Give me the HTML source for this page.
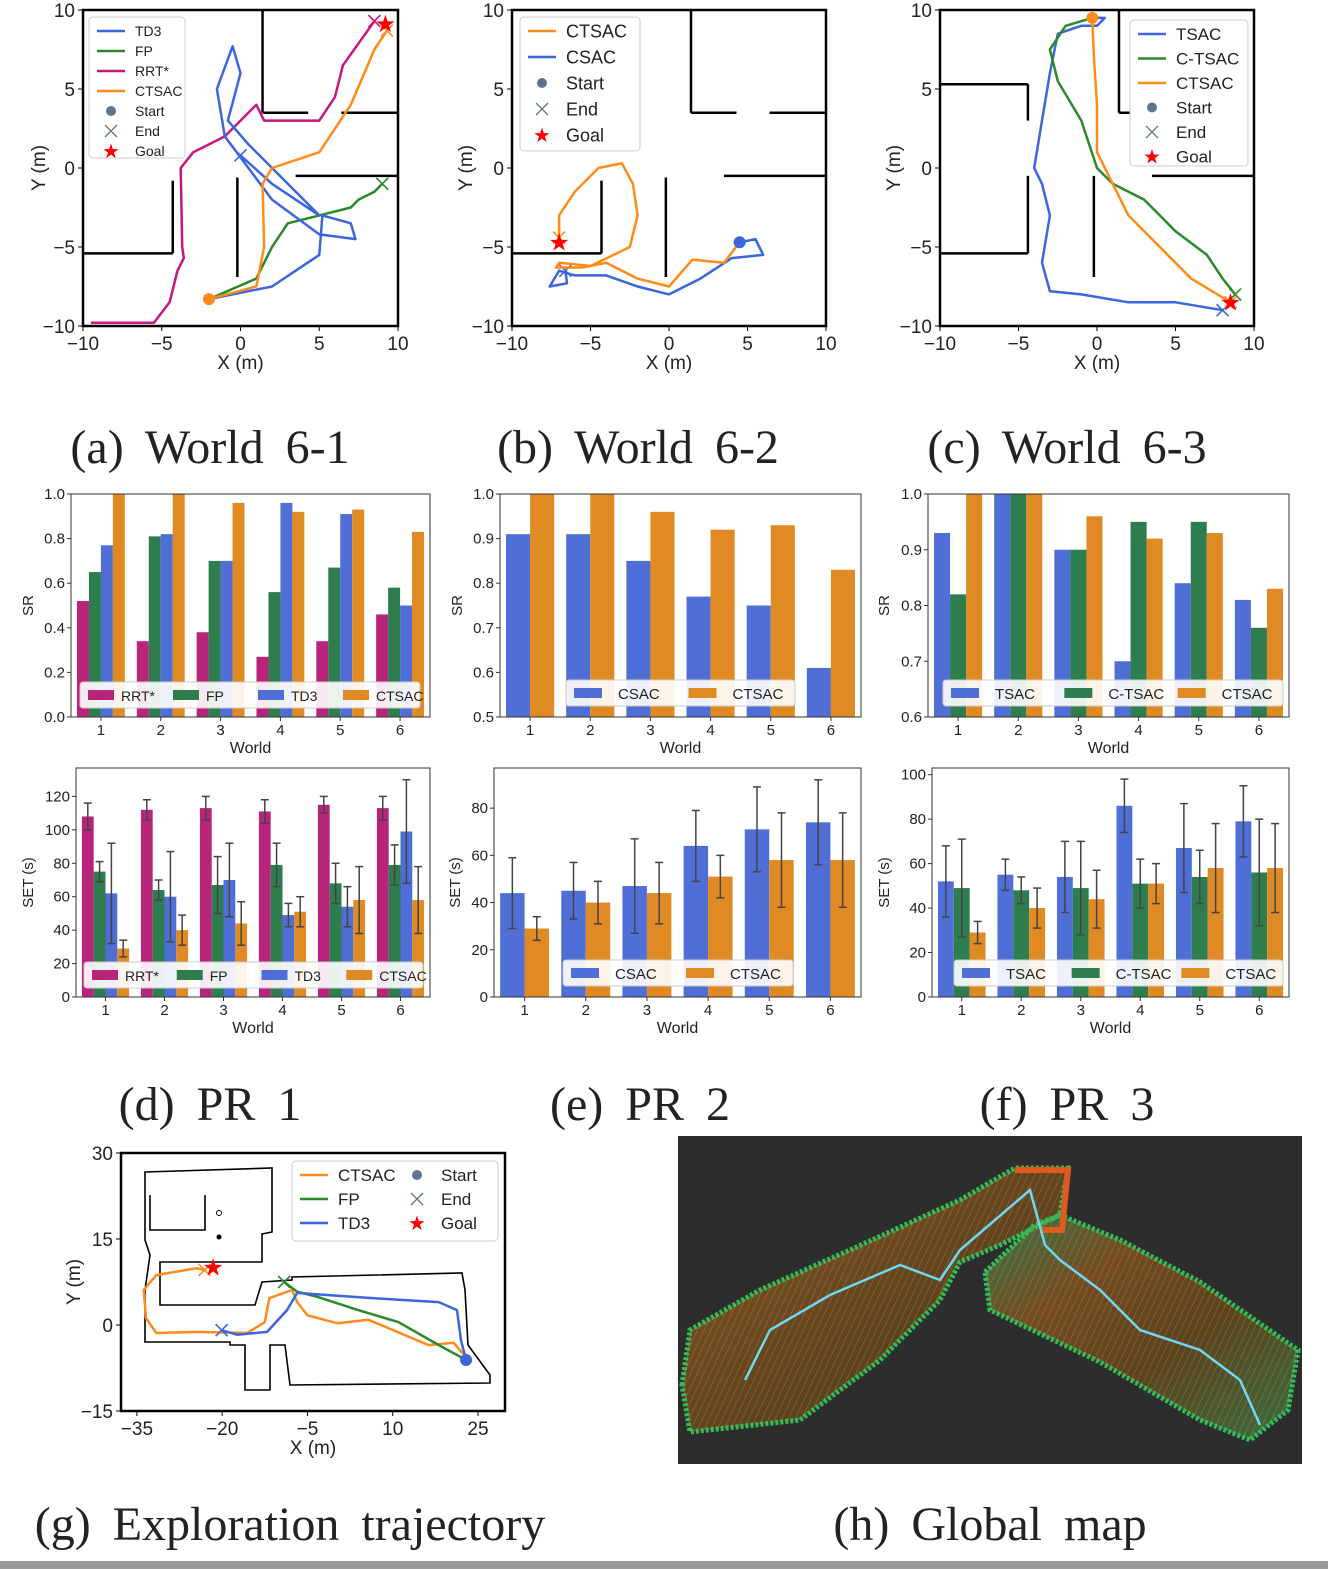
<!DOCTYPE html>
<html><head><meta charset="utf-8">
<style>
html,body{margin:0;padding:0;background:#fff;}
svg{display:block;font-family:"Liberation Sans",sans-serif;}
.cap{font-family:"Liberation Serif",serif;font-size:48px;word-spacing:10px;fill:#222;}
</style></head>
<body>
<svg id="fig" width="1328" height="1569" viewBox="0 0 1328 1569" xmlns="http://www.w3.org/2000/svg">
<rect x="0" y="0" width="1328" height="1569" fill="#fff"/>
<g><text class="cap" x="210" y="463" text-anchor="middle">(a) World 6-1</text></g>
<g><text class="cap" x="638" y="463" text-anchor="middle">(b) World 6-2</text></g>
<g><text class="cap" x="1067" y="463" text-anchor="middle">(c) World 6-3</text></g>
<g><text class="cap" x="210" y="1120" text-anchor="middle">(d) PR 1</text></g>
<g><text class="cap" x="640" y="1120" text-anchor="middle">(e) PR 2</text></g>
<g><text class="cap" x="1067" y="1120" text-anchor="middle">(f) PR 3</text></g>
<g><text class="cap" x="290" y="1540" text-anchor="middle">(g) Exploration trajectory</text></g>
<g><text class="cap" x="990" y="1540" text-anchor="middle">(h) Global map</text></g>
<rect x="0" y="1561" width="1328" height="8" fill="#9a9a9a"/>
<g id="root"></g>
</svg>
<script>
// ---------- data ----------
const worlds = ["1","2","3","4","5","6"];
const srRRT = [0.52,0.34,0.38,0.27,0.34,0.46];
const srFP = [0.65,0.81,0.70,0.56,0.67,0.58];
const srTD3 = [0.77,0.82,0.70,0.96,0.91,0.50];
const srCTSAC = [1.0,1.0,0.96,0.92,0.93,0.83];
const srCSAC = [0.91,0.91,0.85,0.77,0.75,0.61];
const srTSAC = [0.93,1.0,0.90,0.70,0.84,0.81];
const srCTSAC2 = [0.82,1.0,0.90,0.95,0.95,0.76];
const setRRT = [108,112,113,111,115,113];
const setRRTErr = [8,6,7,7,5,7];
const setFP = [75,64,67,79,68,79];
const setFPErr = [6,6,17,13,12,12];
const setTD3 = [62,60,70,49,54,99];
const setTD3Err = [30,27,22,7,12,31];
const setCTSAC = [29,40,44,51,58,58];
const setCTSACErr = [5,9,13,9,20,20];
const setCSAC = [44,45,47,64,71,74];
const setCSACErr = [15,12,20,15,18,18];
const setTSAC = [52,55,54,86,67,79];
const setTSACErr = [16,7,16,12,20,16];
const setCT = [49,48,49,51,54,56];
const setCTErr = [22,6,21,11,12,24];
const srTicksD = [0,0.2,0.4,0.6,0.8,1.0];
const srTicksE = [0.5,0.6,0.7,0.8,0.9,1.0];
const srTicksF = [0.6,0.7,0.8,0.9,1.0];
const setTicksD = [0,20,40,60,80,100,120];
const setTicksE = [0,20,40,60,80];
const setTicksF = [0,20,40,60,80,100];
const trajTicks = [-10,-5,0,5,10];
const aCTSAC = [[-2,-8.3],[1,-7.5],[1.5,-5],[1.4,-1],[2,0],[5,1],[7,4],[8.5,7.5],[9.3,8.7]];
const aTD3 = [[-2,-8.3],[2,-7.5],[5,-5.5],[5.2,-3],[7,-3.5],[7.3,-4.5],[5,-4.2],[2,-2],[0.5,0],[-1,2],[-1.5,5],[-0.5,7.7],[0,6],[-0.8,3],[0.5,1.5],[3,-1],[5,-3],[2,-1],[0,0.8]];
const aFP = [[-2,-8.3],[1,-7],[2,-5],[3,-3.5],[5,-3],[7,-2.5],[7.5,-2],[8.5,-1.5],[9,-1]];
const aRRT = [[-9.5,-9.8],[-5.5,-9.8],[-4.5,-8.5],[-4,-6.5],[-3.6,-5.7],[-3.7,-5],[-3.8,0],[-3,1],[-1,2],[0,3],[1,4],[1.5,3],[3,3],[5,3],[6,4.5],[6.5,6.5],[8.5,9.3]];
const bCSAC = [[4.5,-4.7],[5.5,-4.5],[6,-5.5],[4,-5.7],[2,-7],[0,-8],[-2,-7.5],[-4,-6.8],[-6,-6.8],[-7,-6.5],[-7.6,-7.5],[-6.5,-7.3],[-6.6,-6.5]];
const bCTSAC = [[4.5,-4.7],[3.5,-6],[1.5,-5.8],[0,-7.5],[-2,-7],[-4,-6],[-5.5,-6.3],[-7.2,-6.3],[-7,-6],[-5,-6.2],[-2.5,-5],[-2,-3],[-2.3,-1],[-3,0.3],[-4.5,0],[-6,-1.5],[-7,-3],[-7,-4.4]];
const cTSAC = [[-0.3,9.5],[0.5,9.5],[0,9],[-1,9],[-2.5,8.5],[-3,6],[-3.5,3],[-4,0],[-3.5,-1],[-3,-3],[-3.5,-6],[-3,-7.8],[-1,-8],[2,-8.5],[5,-8.5],[8,-9]];
const cCT = [[-0.3,9.5],[-2,9],[-3,7.5],[-2.5,5.5],[-1,3],[0,0],[1,-1],[3,-2],[4,-3],[5,-4],[7,-5.5],[8,-7],[8.8,-8]];
const cCTSAC = [[-0.3,9.5],[-0.2,7],[0,4],[0,1],[1,-1],[2,-3],[4,-5],[6,-7],[8.5,-8.5]];
const gCTSAC = [[22.9,-5.6],[20.7,-3.1],[16.3,-3.5],[10.1,-0.9],[5.7,0.9],[0.3,0.3],[-5,1.7],[-6.8,4],[-7.7,6.1],[-11.7,4.7],[-12.5,0.5],[-15.6,-1.4],[-24.5,-1.2],[-31.6,-1.4],[-33.4,1.2],[-33.8,6.1],[-31.6,8.7],[-24.5,9.9],[-23.1,9.6]];
const gTD3 = [[22.9,-6.1],[22,-2.6],[21.3,2.6],[18.1,4],[11,4.4],[0.3,5.1],[-6.8,5.6],[-8.6,2.6],[-12.1,-1.2],[-17.4,-1.7],[-20.1,-0.9]];
const gFP = [[22.9,-6.1],[18.1,-3.5],[11,0.5],[3.9,2.6],[-3.2,4.9],[-6.8,5.8],[-9.1,7.5]];
const gXTicks = [-35,-20,-5,10,25];
const gYTicks = [30,15,0,-15];

const C = {rrt:"#b8247a", fp:"#2e7d4e", td3:"#4f6fd6", ct:"#e08a24", tblue:"#3b66dd", tgreen:"#2a8a2a", torange:"#ff8c1a", tmag:"#c8177f"};
const NS = "http://www.w3.org/2000/svg";
const root = document.getElementById('root');
function add(parent, tag, attrs, name, txt){
  const el = document.createElementNS(NS, tag);
  for (const k in attrs) el.setAttribute(k, attrs[k]);
  
  
  if (txt !== undefined) el.textContent = txt;
  parent.appendChild(el);
  return el;
}
function fmtNeg(v){ return v < 0 ? "\u2212" + Math.abs(v) : String(v); }

function barChart(o){
  const g = add(root, 'g', {}, o.name);
  const ys = v => o.y1 - (v - o.ymin) / (o.ymax - o.ymin) * (o.y1 - o.y0);
  const step = (o.x1 - o.x0) / worlds.length;
  const xc = i => o.x0 + step * (i + 0.5);
  const bw = step * 0.8 / o.series.length;
  o.series.forEach((s, si) => {
    s.vals.forEach((v, i) => {
      const x = xc(i) - step * 0.4 + si * bw;
      const top = ys(v);
      add(g, 'rect', {x:x, y:top, width:bw, height:o.y1 - top, fill:s.color}, 'bar-' + s.key + '-' + worlds[i]);
      if (s.errs) {
        const e = s.errs[i], cx = x + bw / 2;
        add(g, 'line', {x1:cx, x2:cx, y1:ys(v + e), y2:ys(Math.max(o.ymin, v - e)), stroke:'#444', 'stroke-width':1.5}, 'error-bar');
        add(g, 'line', {x1:cx-4, x2:cx+4, y1:ys(v + e), y2:ys(v + e), stroke:'#444', 'stroke-width':1.5}, 'error-cap');
        add(g, 'line', {x1:cx-4, x2:cx+4, y1:ys(v - e), y2:ys(v - e), stroke:'#444', 'stroke-width':1.5}, 'error-cap');
      }
    });
  });
  add(g, 'rect', {x:o.x0, y:o.y0, width:o.x1 - o.x0, height:o.y1 - o.y0, fill:'none', stroke:'#333', 'stroke-width':1}, 'plot-frame');
  o.ticks.forEach(t => {
    const y = ys(t);
    add(g, 'line', {x1:o.x0 - 4, x2:o.x0, y1:y, y2:y, stroke:'#333'}, 'y-tick');
    add(g, 'text', {x:o.x0 - 6, y:y + 5, 'text-anchor':'end', 'font-size':15, fill:'#222'}, 'y-tick-label', o.fmt ? t.toFixed(1) : String(t));
  });
  worlds.forEach((w, i) => {
    add(g, 'line', {x1:xc(i), x2:xc(i), y1:o.y1, y2:o.y1 + 4, stroke:'#333'}, 'x-tick');
    add(g, 'text', {x:xc(i), y:o.y1 + 18, 'text-anchor':'middle', 'font-size':15, fill:'#222'}, 'x-tick-label', w);
  });
  add(g, 'text', {x:(o.x0 + o.x1) / 2, y:o.y1 + 36, 'text-anchor':'middle', 'font-size':16, fill:'#222'}, 'x-axis-title', 'World');
  const ly = (o.y0 + o.y1) / 2;
  add(g, 'text', {x:o.ylx, y:ly, 'text-anchor':'middle', 'font-size':15, fill:'#222', transform:'rotate(-90 ' + o.ylx + ' ' + ly + ')'}, 'y-axis-title', o.ylabel);
  const L = o.legend;
  add(g, 'rect', {x:L.x, y:L.y, width:L.w, height:26, rx:3, fill:'#fff', 'fill-opacity':0.9, stroke:'#ccc'}, 'legend-box');
  const ew = L.w / o.series.length;
  const four = o.series.length > 3;
  o.series.forEach((s, si) => {
    const ex = L.x + 8 + si * ew;
    add(g, 'rect', {x:ex, y:L.y + 8, width:four ? 26 : 28, height:10, fill:s.color}, 'legend-swatch');
    add(g, 'text', {x:ex + (four ? 33 : 44), y:L.y + 19, 'font-size':four ? 14 : 15, fill:'#222'}, 'legend-entry', s.label);
  });
}
const S4 = (a,b,c,d,ea,eb,ec,ed) => [
  {key:'rrt', label:'RRT*', color:C.rrt, vals:a, errs:ea},
  {key:'fp', label:'FP', color:C.fp, vals:b, errs:eb},
  {key:'td3', label:'TD3', color:C.td3, vals:c, errs:ec},
  {key:'ctsac', label:'CTSAC', color:C.ct, vals:d, errs:ed}];
barChart({name:'sr-chart-pr1', x0:71, x1:430, y0:494, y1:717, ymin:0, ymax:1.0, ticks:srTicksD, fmt:true, ylabel:'SR', ylx:33,
  series:S4(srRRT, srFP, srTD3, srCTSAC), legend:{x:80, y:682, w:340}});
barChart({name:'sr-chart-pr2', x0:500, x1:861, y0:494, y1:717, ymin:0.5, ymax:1.0, ticks:srTicksE, fmt:true, ylabel:'SR', ylx:462,
  series:[{key:'csac', label:'CSAC', color:C.td3, vals:srCSAC},{key:'ctsac', label:'CTSAC', color:C.ct, vals:srCTSAC}], legend:{x:566, y:680, w:229}});
barChart({name:'sr-chart-pr3', x0:928, x1:1289, y0:494, y1:717, ymin:0.6, ymax:1.0, ticks:srTicksF, fmt:true, ylabel:'SR', ylx:889,
  series:[{key:'tsac', label:'TSAC', color:C.td3, vals:srTSAC},{key:'c-tsac', label:'C-TSAC', color:C.fp, vals:srCTSAC2},{key:'ctsac', label:'CTSAC', color:C.ct, vals:srCTSAC}], legend:{x:943, y:680, w:340}});
barChart({name:'set-chart-pr1', x0:76, x1:430, y0:768, y1:997, ymin:0, ymax:137, ticks:setTicksD, fmt:false, ylabel:'SET (s)', ylx:33,
  series:S4(setRRT, setFP, setTD3, setCTSAC, setRRTErr, setFPErr, setTD3Err, setCTSACErr), legend:{x:84, y:962, w:339}});
barChart({name:'set-chart-pr2', x0:494, x1:861, y0:768, y1:997, ymin:0, ymax:97, ticks:setTicksE, fmt:false, ylabel:'SET (s)', ylx:460,
  series:[{key:'csac', label:'CSAC', color:C.td3, vals:setCSAC, errs:setCSACErr},{key:'ctsac', label:'CTSAC', color:C.ct, vals:setCTSAC, errs:setCTSACErr}], legend:{x:563, y:960, w:230}});
barChart({name:'set-chart-pr3', x0:932, x1:1289, y0:768, y1:997, ymin:0, ymax:103, ticks:setTicksF, fmt:false, ylabel:'SET (s)', ylx:889,
  series:[{key:'tsac', label:'TSAC', color:C.td3, vals:setTSAC, errs:setTSACErr},{key:'c-tsac', label:'C-TSAC', color:C.fp, vals:setCT, errs:setCTErr},{key:'ctsac', label:'CTSAC', color:C.ct, vals:setCTSAC, errs:setCTSACErr}], legend:{x:954, y:960, w:329}});

function marker(g, type, x, y, color, name){
  if (type === 'dot') add(g, 'circle', {cx:x, cy:y, r:6, fill:color}, name);
  else if (type === 'x') add(g, 'path', {d:`M${x-6} ${y-6}L${x+6} ${y+6}M${x-6} ${y+6}L${x+6} ${y-6}`, stroke:color, 'stroke-width':1.6, fill:'none'}, name);
  else add(g, 'text', {x:x, y:y + 8, 'text-anchor':'middle', 'font-size':24, fill:'#f00'}, name, '\u2605');
}
function traj(o){
  const g = add(root, 'g', {}, o.name);
  const xs = v => o.x0 + (v - o.xmin) / (o.xmax - o.xmin) * (o.x1 - o.x0);
  const ys = v => o.y1 - (v - o.ymin) / (o.ymax - o.ymin) * (o.y1 - o.y0);
  (o.walls || []).forEach(w => add(g, 'line', {x1:xs(w[0]), y1:ys(w[1]), x2:xs(w[2]), y2:ys(w[3]), stroke:'#000', 'stroke-width':2.5}, 'wall'));
  if (o.extra) o.extra(g);
  o.lines.forEach(l => {
    add(g, 'polyline', {points:l.pts.map(p => xs(p[0]).toFixed(1) + ',' + ys(p[1]).toFixed(1)).join(' '), fill:'none', stroke:l.color, 'stroke-width':2.5, 'stroke-linejoin':'round'}, 'path-' + l.key);
    const e = l.pts[l.pts.length - 1];
    marker(g, 'x', xs(e[0]), ys(e[1]), l.color, 'end-marker-' + l.key);
  });
  marker(g, 'dot', xs(o.start[0]), ys(o.start[1]), o.startColor, 'start-marker');
  marker(g, 'star', xs(o.goal[0]), ys(o.goal[1]), '#f00', 'goal-marker');
  add(g, 'rect', {x:o.x0, y:o.y0, width:o.x1 - o.x0, height:o.y1 - o.y0, fill:'none', stroke:'#000', 'stroke-width':2.5}, 'plot-frame');
  o.xt.forEach(t => {
    add(g, 'line', {x1:xs(t), x2:xs(t), y1:o.y1, y2:o.y1 + 5, stroke:'#000'}, 'x-tick');
    add(g, 'text', {x:xs(t), y:o.y1 + 24, 'text-anchor':'middle', 'font-size':19, fill:'#222'}, 'x-tick-label', fmtNeg(t));
  });
  o.yt.forEach(t => {
    add(g, 'line', {x1:o.x0 - 5, x2:o.x0, y1:ys(t), y2:ys(t), stroke:'#000'}, 'y-tick');
    add(g, 'text', {x:o.x0 - 8, y:ys(t) + 7, 'text-anchor':'end', 'font-size':19, fill:'#222'}, 'y-tick-label', fmtNeg(t));
  });
  add(g, 'text', {x:(o.x0 + o.x1) / 2, y:o.y1 + 43, 'text-anchor':'middle', 'font-size':19, fill:'#222'}, 'x-axis-title', 'X (m)');
  const ly = (o.y0 + o.y1) / 2;
  add(g, 'text', {x:o.ylx, y:ly, 'text-anchor':'middle', 'font-size':19, fill:'#222', transform:'rotate(-90 ' + o.ylx + ' ' + ly + ')'}, 'y-axis-title', 'Y (m)');
  const L = o.legend;
  add(g, 'rect', {x:L.x, y:L.y, width:L.w, height:L.h, rx:4, fill:'#fff', stroke:'#ccc'}, 'legend-box');
  L.items.forEach((it, i) => {
    const cx = L.x + (L.cols && i >= L.cols ? L.w / 2 : 0);
    const ri = L.cols ? i % L.cols : i;
    const y = L.y + 14 + ri * L.dy;
    if (it.t === 'line') add(g, 'line', {x1:cx + 8, x2:cx + 36, y1:y, y2:y, stroke:it.c, 'stroke-width':2.5}, 'legend-line');
    else if (it.t === 'dot') add(g, 'circle', {cx:cx + 22, cy:y, r:5, fill:'#5f7290'}, 'legend-start-icon');
    else if (it.t === 'x') add(g, 'path', {d:`M${cx+16} ${y-6}L${cx+28} ${y+6}M${cx+16} ${y+6}L${cx+28} ${y-6}`, stroke:'#5f7290', 'stroke-width':1.3}, 'legend-end-icon');
    else add(g, 'text', {x:cx + 22, y:y + 7, 'text-anchor':'middle', 'font-size':20, fill:'#f00'}, 'legend-goal-icon', '\u2605');
    add(g, 'text', {x:cx + 46, y:y + L.fs * 0.36, 'font-size':L.fs, fill:'#222'}, 'legend-entry', it.label);
  });
}
const wallsAB = [[-10,-5.4,-4.3,-5.4],[-4.3,-5.4,-4.3,-0.8],[-0.2,-6.9,-0.2,-0.6],[1.4,10,1.4,3.5],[1.4,3.5,4.3,3.5],[6.4,3.5,10,3.5],[3.5,-0.5,10,-0.5]];
const T = {xmin:-10, xmax:10, ymin:-10, ymax:10, y0:10, y1:326, xt:trajTicks, yt:trajTicks};
traj(Object.assign({}, T, {name:'traj-world-6-1', x0:83, x1:398, ylx:45, walls:wallsAB, start:[-2,-8.3], startColor:C.torange, goal:[9.2,9.1],
  lines:[{key:'rrt',color:C.tmag,pts:aRRT},{key:'fp',color:C.tgreen,pts:aFP},{key:'td3',color:C.tblue,pts:aTD3},{key:'ctsac',color:C.torange,pts:aCTSAC}],
  legend:{x:89, y:17, w:96, h:141, dy:20, fs:14, items:[{t:'line',c:C.tblue,label:'TD3'},{t:'line',c:C.tgreen,label:'FP'},{t:'line',c:C.tmag,label:'RRT*'},{t:'line',c:C.torange,label:'CTSAC'},{t:'dot',label:'Start'},{t:'x',label:'End'},{t:'star',label:'Goal'}]}}));
traj(Object.assign({}, T, {name:'traj-world-6-2', x0:512, x1:826, ylx:472, walls:wallsAB, start:[4.5,-4.7], startColor:C.tblue, goal:[-7,-4.7],
  lines:[{key:'csac',color:C.tblue,pts:bCSAC},{key:'ctsac',color:C.torange,pts:bCTSAC}],
  legend:{x:520, y:17, w:120, h:134, dy:26, fs:18, items:[{t:'line',c:C.torange,label:'CTSAC'},{t:'line',c:C.tblue,label:'CSAC'},{t:'dot',label:'Start'},{t:'x',label:'End'},{t:'star',label:'Goal'}]}}));
const wallsC = [[-10,5.3,-4.4,5.3],[-4.4,5.3,-4.4,3],[-4.4,-0.5,-4.4,-5.4],[-10,-5.4,-4.4,-5.4],[-0.2,-0.5,-0.2,-6.9],[1.4,10,1.4,3.5],[1.4,3.5,3.5,3.5],[3.5,-0.5,10,-0.5]];
traj(Object.assign({}, T, {name:'traj-world-6-3', x0:940, x1:1254, ylx:900, walls:wallsC, start:[-0.3,9.5], startColor:C.torange, goal:[8.5,-8.5],
  lines:[{key:'tsac',color:C.tblue,pts:cTSAC},{key:'c-tsac',color:C.tgreen,pts:cCT},{key:'ctsac',color:C.torange,pts:cCTSAC}],
  legend:{x:1130, y:20, w:118, h:146, dy:24.5, fs:17, items:[{t:'line',c:C.tblue,label:'TSAC'},{t:'line',c:C.tgreen,label:'C-TSAC'},{t:'line',c:C.torange,label:'CTSAC'},{t:'dot',label:'Start'},{t:'x',label:'End'},{t:'star',label:'Goal'}]}}));

traj({name:'exploration-trajectory', xmin:-37.8, xmax:29.75, ymin:-15, ymax:30, x0:121, x1:505, y0:1153, y1:1411, xt:gXTicks, yt:gYTicks, ylx:80,
  start:[22.9,-6.1], startColor:C.tblue, goal:[-21.6,10],
  extra: g => {
    const d = "M145 1172 L272 1168 L272 1232 L262 1234 L262 1262 L160 1262 L160 1305 L255 1305 L262 1282 L292 1280 L292 1277 L462 1273 L465 1290 L468 1345 L490 1375 L490 1383 L290 1385 L285 1345 L270 1345 L270 1390 L245 1390 L245 1345 L230 1345 L230 1342 L145 1342 L145 1290 L150 1255 L145 1240 Z M150 1195 L150 1230 L205 1230 L205 1195";
    add(g, 'path', {d:d, fill:'none', stroke:'#000', 'stroke-width':1.6}, 'floor-plan-outline');
    add(g, 'circle', {cx:219, cy:1237, r:2.5, fill:'#000'}, 'floor-plan-obstacle');
    add(g, 'circle', {cx:219, cy:1213, r:2.5, fill:'none', stroke:'#000'}, 'floor-plan-obstacle');
  },
  lines:[{key:'ctsac',color:C.torange,pts:gCTSAC},{key:'fp',color:C.tgreen,pts:gFP},{key:'td3',color:C.tblue,pts:gTD3}],
  legend:{x:292, y:1161, w:206, h:80, cols:3, dy:24, fs:17, items:[{t:'line',c:C.torange,label:'CTSAC'},{t:'line',c:C.tgreen,label:'FP'},{t:'line',c:C.tblue,label:'TD3'},{t:'dot',label:'Start'},{t:'x',label:'End'},{t:'star',label:'Goal'}]}});

(function(){
  const g = add(root, 'g', {}, 'global-map');
  add(g, 'rect', {x:678, y:1136, width:624, height:328, fill:'#2d2d2d'}, 'map-background');
  const defs = add(g, 'defs', {}, 'map-defs');
  const lg = add(defs, 'linearGradient', {id:'pc', x1:0, y1:0, x2:1, y2:1}, 'pointcloud-gradient');
  [['0','#3aa860'],['0.3','#a0601c'],['0.6','#7a5018'],['1','#3c9a50']].forEach(s => add(lg, 'stop', {offset:s[0], 'stop-color':s[1]}, 'gradient-stop'));
  const pat = add(defs, 'pattern', {id:'stripes', width:6, height:6, patternUnits:'userSpaceOnUse', patternTransform:'rotate(25)'}, 'pointcloud-texture');
  add(pat, 'line', {x1:0, y1:0, x2:0, y2:6, stroke:'#e0a030', 'stroke-width':1, 'stroke-opacity':0.5}, 'texture-line');
  const left = "M682 1385 L690 1330 L760 1290 L850 1250 L960 1200 L1015 1168 L1068 1168 L1060 1215 L1000 1245 L960 1262 L940 1300 L880 1360 L800 1420 L690 1432 Z";
  const right = "M985 1272 L1035 1225 L1060 1215 L1120 1240 L1200 1282 L1298 1350 L1288 1410 L1250 1440 L1200 1420 L1100 1362 L990 1310 Z";
  add(g, 'path', {d:left, fill:'url(#pc)', 'fill-opacity':0.6, stroke:'#2fbf5a', 'stroke-width':5, 'stroke-dasharray':'3 2'}, 'pointcloud-left-wing');
  add(g, 'path', {d:left, fill:'url(#stripes)', stroke:'none'}, 'pointcloud-left-texture');
  add(g, 'path', {d:right, fill:'url(#pc)', 'fill-opacity':0.6, stroke:'#2fbf5a', 'stroke-width':5, 'stroke-dasharray':'3 2'}, 'pointcloud-right-wing');
  add(g, 'path', {d:right, fill:'url(#stripes)', stroke:'none'}, 'pointcloud-right-texture');
  add(g, 'path', {d:"M1015 1170 L1068 1170 L1062 1230 L1040 1230", fill:'none', stroke:'#e05a20', 'stroke-width':6}, 'pointcloud-corridor');
  add(g, 'polyline', {points:"745,1380 770,1330 830,1295 900,1265 940,1280 960,1250 1030,1190 1045,1245 1060,1260 1100,1290 1140,1330 1200,1350 1240,1380 1260,1425", fill:'none', stroke:'#6fd8f0', 'stroke-width':2.5}, 'robot-trajectory');
})();
</script>
</body></html>
